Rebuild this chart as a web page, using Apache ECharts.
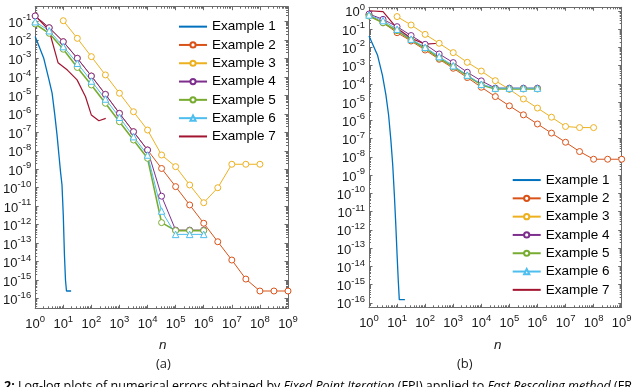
<!DOCTYPE html>
<html>
<head>
<meta charset="utf-8">
<style>
html, body { margin: 0; padding: 0; background: #fff; }
#main { width: 640px; height: 387px; }
</style>
<script src="https://cdn.jsdelivr.net/npm/echarts@6/dist/echarts.min.js"></script>
</head>
<body>
<div id="main"></div>
<script>
var FONT = "'Liberation Sans', Arial, Helvetica, sans-serif";

// series names / styles (matlab default colour order)
var names = ['Example 1', 'Example 2', 'Example 3', 'Example 4', 'Example 5', 'Example 6', 'Example 7'];
var colors = ['#0072BD', '#D95319', '#EDB120', '#7E2F8E', '#77AC30', '#4DBEEE', '#A2142F'];
var symbols = ['none', 'circle', 'circle', 'circle', 'circle', 'triangle', 'none'];
var widths = [1.3, 1, 1, 1, 1.6, 1, 1.2];

// n values
var nHalf = [1, 3.16, 10, 31.6, 100, 316, 1e3, 3.16e3, 1e4, 3.16e4, 1e5, 3.16e5, 1e6, 3.16e6, 1e7, 3.16e7, 1e8, 3.16e8, 1e9];
var nInt = [1, 2, 3, 4, 5, 6, 7, 8, 9, 10, 11, 12, 13, 14, 15, 16, 17, 18, 19, 20];
var nA7 = [1, 3.1, 6.5, 9.2, 14, 31, 62, 100, 185, 325];

// (a) errors
var a1 = [1.5e-2, 1.05e-3, 8.5e-5, 1.3e-5, 8.5e-7, 7e-8, 5.9e-9, 7e-10, 1.4e-10, 3.3e-12, 2.3e-14, 1e-15, 2.6e-16,
  2.6e-16, 2.6e-16, 2.6e-16, 2.6e-16, 2.6e-16, 2.6e-16, 2.6e-16];
var a2 = [0.195, 0.045, 7.9e-3, 1e-3, 1.1e-4, 1.12e-5, 1.05e-6, 1.07e-7, 1.1e-8, 1.1e-9, 1.15e-10, 1.17e-11, 1.2e-12,
  1.2e-13, 1.23e-14, 1.15e-15, 2.6e-16, 2.6e-16, 2.6e-16];
var a3 = [0.108, 0.012, 1.23e-3, 1.26e-4, 1.29e-5, 1.29e-6, 1.32e-7, 5.9e-9, 1.38e-9, 1.41e-10, 1.55e-11, 1e-10,
  1.86e-9, 1.86e-9, 1.86e-9];
var a4 = [0.195, 0.045, 7.9e-3, 1e-3, 1.1e-4, 1.12e-5, 1.05e-6, 1.07e-7, 1.1e-8, 3.5e-11, 5.1e-13, 5.1e-13, 5.1e-13];
var a5 = [0.0714, 0.0224, 3.1e-3, 3.2e-4, 3.6e-5, 3.7e-6, 3.7e-7, 3.8e-8, 3.9e-9, 1.3e-12, 4.8e-13, 4.8e-13, 4.8e-13];
var a6 = [0.095, 0.031, 4.3e-3, 5.4e-4, 5.9e-5, 6.3e-6, 6.5e-7, 5.8e-8, 5.9e-9, 5.5e-12, 3.0e-13, 3.0e-13, 3.0e-13];
var a7 = [0.195, 0.034, 5.8e-4, 3.8e-4, 2.3e-4, 6.8e-5, 8.3e-6, 8.5e-7, 4.2e-7, 5.6e-7];

// (b) errors
var b1 = [4.2e-2, 3.8e-3, 3e-4, 2.5e-5, 1.9e-6, 8.5e-8, 3.6e-9, 8.3e-11, 1.9e-12, 4.3e-14, 1.8e-15, 1.5e-16,
  1.5e-16, 1.5e-16, 1.5e-16, 1.5e-16, 1.5e-16, 1.5e-16, 1.5e-16, 1.5e-16];
var b2 = [0.59, 0.22, 0.063, 0.022, 7.1e-3, 2.2e-3, 7.1e-4, 2.2e-4, 6.5e-5, 2e-5, 6.2e-6, 2e-6, 6.3e-7, 2e-7,
  6.3e-8, 1.95e-8, 7.4e-9, 7.4e-9, 7.4e-9];
var b3 = [0.48, 0.166, 0.051, 0.0166, 5.1e-3, 1.5e-3, 5e-4, 1.48e-4, 5e-5, 1.48e-5, 4.7e-6, 1.48e-6, 4.6e-7, 4e-7, 4e-7];
var b4 = [0.66, 0.34, 0.135, 0.044, 0.0145, 4.3e-3, 1.45e-3, 4.3e-4, 1.45e-4, 5.8e-5, 5.8e-5, 5.8e-5, 5.8e-5];
var b5 = [0.51, 0.22, 0.081, 0.025, 8.9e-3, 2.5e-3, 8.7e-4, 2.7e-4, 8.7e-5, 5.2e-5, 5.2e-5, 5.2e-5, 5.2e-5];
var b6 = [0.59, 0.29, 0.098, 0.028, 0.01, 3.1e-3, 9.8e-4, 3e-4, 9.5e-5, 5.8e-5, 5.8e-5, 5.8e-5, 5.8e-5];
var b7 = [1.0, 0.9, 0.11, 0.031, 0.015, 0.0166];

// x values for each series, per panel
var xsA = [nInt, nHalf, nHalf.slice(2, 17), nHalf.slice(0, 13), nHalf.slice(0, 13), nHalf.slice(0, 13), nA7];
var xsB = [nInt, nHalf, nHalf.slice(2, 17), nHalf.slice(0, 13), nHalf.slice(0, 13), nHalf.slice(0, 13), nHalf.slice(0, 6)];
var ysA = [a1, a2, a3, a4, a5, a6, a7];
var ysB = [b1, b2, b3, b4, b5, b6, b7];

var grids = [
	{ left: 34.5, top: 6.7, width: 253.5, height: 301.6 },
	{ left: 369, top: 7.3, width: 252.7, height: 300 }
];
var yRange = [[-16.52, -0.21], [-16.24, 0.19]];

var FRAME = '#6b6b6b';

function majors(lo, hi) {
	var out = [];
	for (var k = Math.ceil(lo); k <= hi; k++) out.push(k);
	return out;
}
function minors(lo, hi) {
	var out = [];
	for (var d = Math.floor(lo); d < hi; d++) {
		for (var k = 2; k <= 9; k++) {
			var v = d + Math.log10(k);
			if (v > lo && v < hi) out.push(v);
		}
	}
	return out;
}

function powLabel(v) {
	return '{b|10}{s|' + Math.round(v) + '}';
}
var richPow = {
	b: { fontSize: 13, lineHeight: 21, fontFamily: FONT, color: '#1a1a1a' },
	s: { fontSize: 9.5, lineHeight: 9, verticalAlign: 'top', fontFamily: FONT, color: '#1a1a1a' }
};

var xAxis = [], yAxis = [];
grids.forEach(function (g, gi) {
	var xMaj = majors(0, 9), xMin = minors(0, 9);
	var yMaj = majors(yRange[gi][0], yRange[gi][1]), yMin = minors(yRange[gi][0], yRange[gi][1]);
	['bottom', 'top'].forEach(function (pos, pi) {
		xAxis.push({
			gridIndex: gi, type: 'value', min: 0, max: 9, position: pos,
			axisLine: { show: true, onZero: false, lineStyle: { color: FRAME, width: 1 } },
			axisTick: { show: true, inside: true, length: 3.5, customValues: xMaj, lineStyle: { color: FRAME } },
			axisLabel: pi === 0 ? {
				show: true, margin: 6, customValues: xMaj, formatter: powLabel, rich: richPow
			} : { show: false },
			splitLine: { show: false }
		});
		xAxis.push({
			gridIndex: gi, type: 'value', min: 0, max: 9, position: pos,
			axisLine: { show: false, onZero: false },
			axisTick: { show: true, inside: true, length: 2, customValues: xMin, lineStyle: { color: FRAME } },
			axisLabel: { show: false },
			splitLine: { show: false }
		});
	});
	['left', 'right'].forEach(function (pos, pi) {
		yAxis.push({
			gridIndex: gi, type: 'value', min: yRange[gi][0], max: yRange[gi][1], position: pos,
			axisLine: { show: true, onZero: false, lineStyle: { color: FRAME, width: 1 } },
			axisTick: { show: true, inside: true, length: 3.5, customValues: yMaj, lineStyle: { color: FRAME } },
			axisLabel: pi === 0 ? {
				show: true, margin: 4, customValues: yMaj, formatter: powLabel, rich: richPow,
				padding: [4, 0, 0, 0]
			} : { show: false },
			splitLine: { show: false }
		});
		yAxis.push({
			gridIndex: gi, type: 'value', min: yRange[gi][0], max: yRange[gi][1], position: pos,
			axisLine: { show: false, onZero: false },
			axisTick: { show: true, inside: true, length: 2, customValues: yMin, lineStyle: { color: FRAME } },
			axisLabel: { show: false },
			splitLine: { show: false }
		});
	});
});

var series = [];
[[xsA, ysA], [xsB, ysB]].forEach(function (panel, gi) {
	names.forEach(function (name, i) {
		var xs = panel[0][i], ys = panel[1][i];
		series.push({
			name: name,
			type: 'line',
			xAxisIndex: gi * 4,
			yAxisIndex: gi * 4,
			data: xs.map(function (n, j) { return [Math.log10(n), Math.log10(ys[j])]; }),
			symbol: symbols[i],
			symbolSize: symbols[i] === 'triangle' ? 6.5 : 6,
			showSymbol: symbols[i] !== 'none',
			lineStyle: { width: widths[i], color: colors[i] },
			// open markers: white fill, coloured 1px outline
			itemStyle: { color: '#fff', borderColor: colors[i], borderWidth: 1 },
			emphasis: { disabled: true },
			silent: true
		});
	});
});

function legendFor(left, top) {
	return {
		orient: 'vertical', left: left, top: top, padding: 0, itemGap: 0,
		itemWidth: 28, itemHeight: 6.5,
		textStyle: { fontSize: 13.5, lineHeight: 18.3, color: '#000', fontFamily: FONT },
		selectedMode: false,
		data: names.map(function (n, i) {
			return symbols[i] === 'none' ? { name: n, itemStyle: { opacity: 0 } } : { name: n };
		})
	};
}

var CAP_FONT = "'Open Sans', 'DejaVu Sans', sans-serif";
var captionRich = {
	n: { fontSize: 12.5, fontFamily: CAP_FONT, color: '#222' },
	bo: { fontSize: 12.5, fontWeight: 'bold', fontFamily: CAP_FONT, color: '#222' },
	it: { fontSize: 12.5, fontStyle: 'italic', fontFamily: CAP_FONT, color: '#222' }
};

var option = {
	animation: false,
	backgroundColor: '#fff',
	grid: grids,
	xAxis: xAxis,
	yAxis: yAxis,
	legend: [legendFor(178, 17.5), legendFor(511.7, 170.9)],
	series: series,
	graphic: [
		{ type: 'text', left: 159, top: 338, style: { text: 'n', fontSize: 13.5, fontStyle: 'italic', fontFamily: FONT, fill: '#1a1a1a' } },
		{ type: 'text', left: 494, top: 338, style: { text: 'n', fontSize: 13.5, fontStyle: 'italic', fontFamily: FONT, fill: '#1a1a1a' } },
		{ type: 'text', left: 156, top: 358, style: { text: '(a)', fontSize: 13, fontFamily: CAP_FONT, fill: '#222' } },
		{ type: 'text', left: 457, top: 358, style: { text: '(b)', fontSize: 13, fontFamily: CAP_FONT, fill: '#222' } },
		{ type: 'text', left: 4, top: 380, style: {
			text: '{bo|2:} {n|Log-log plots of numerical errors obtained by }{it|Fixed Point Iteration}{n| (FPI) applied to }{it|Fast Rescaling method}{n| (FR}',
			rich: captionRich
		} }
	]
};

var chart = echarts.init(document.getElementById('main'), null, { renderer: 'canvas' });
chart.setOption(option);
</script>
</body>
</html>
